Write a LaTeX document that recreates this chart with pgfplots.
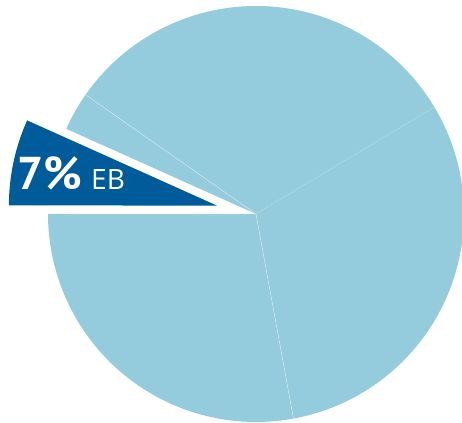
\documentclass[border=0pt]{standalone}
\usepackage{pgfplots}
\pgfplotsset{compat=1.18}
\usepackage{pgfplotstable}
\usetikzlibrary{calc}
\usepackage{fontspec}
\setmainfont{Open Sans}
\newfontfamily\labfont{PT Sans}
\definecolor{lightpie}{RGB}{148,204,221}
\definecolor{darkpie}{RGB}{0,91,154}
\pgfplotstableread{
label value color explode
top 31.7 lightpie 0
small 3.0 lightpie 0
EB 6.7 darkpie 40
bottomleft 27.9 lightpie 0
right 30.7 lightpie 0
}\piedata
\begin{document}
\begin{tikzpicture}
\begin{axis}[hide axis, scale only axis, width=462pt, height=422pt,
  xmin=-256, xmax=206, ymin=-208, ymax=214, clip=true]
\pgfplotsextra{%
  \gdef\startang{30.9}%
  \pgfplotstableforeachcolumnelement{value}\of\piedata\as\v{%
    \edef\r{\pgfplotstablerow}%
    \pgfmathsetmacro\endang{\startang+3.6*\v}%
    \pgfmathsetmacro\midang{(\startang+\endang)/2}%
    \pgfplotstablegetelem{\r}{explode}\of\piedata\edef\ex{\pgfplotsretval}%
    \pgfplotstablegetelem{\r}{color}\of\piedata\edef\col{\pgfplotsretval}%
    \fill[\col] ($(axis cs:0,0)+(\midang:\ex pt)$) -- ++(\startang:208pt)
      arc[start angle=\startang, end angle=\endang, radius=208pt] -- cycle;
    \ifdim\ex pt=0pt
      \draw[white, line width=0.4pt, opacity=0.6] (axis cs:0,0) -- ++(\startang:208pt);
    \fi
    \xdef\startang{\endang}%
  }%
}
\node[anchor=base west, text=white, inner sep=0pt, font=\labfont\fontsize{46}{46}\selectfont\bfseries] at (axis cs:-239,24) {7\%};
\node[anchor=base west, text=white, inner sep=0pt, font=\fontsize{28}{28}\selectfont] at (axis cs:-165,24) {EB};
\end{axis}
\pgfresetboundingbox
\path (current axis.south west) rectangle (current axis.north east);
\end{tikzpicture}
\end{document}
